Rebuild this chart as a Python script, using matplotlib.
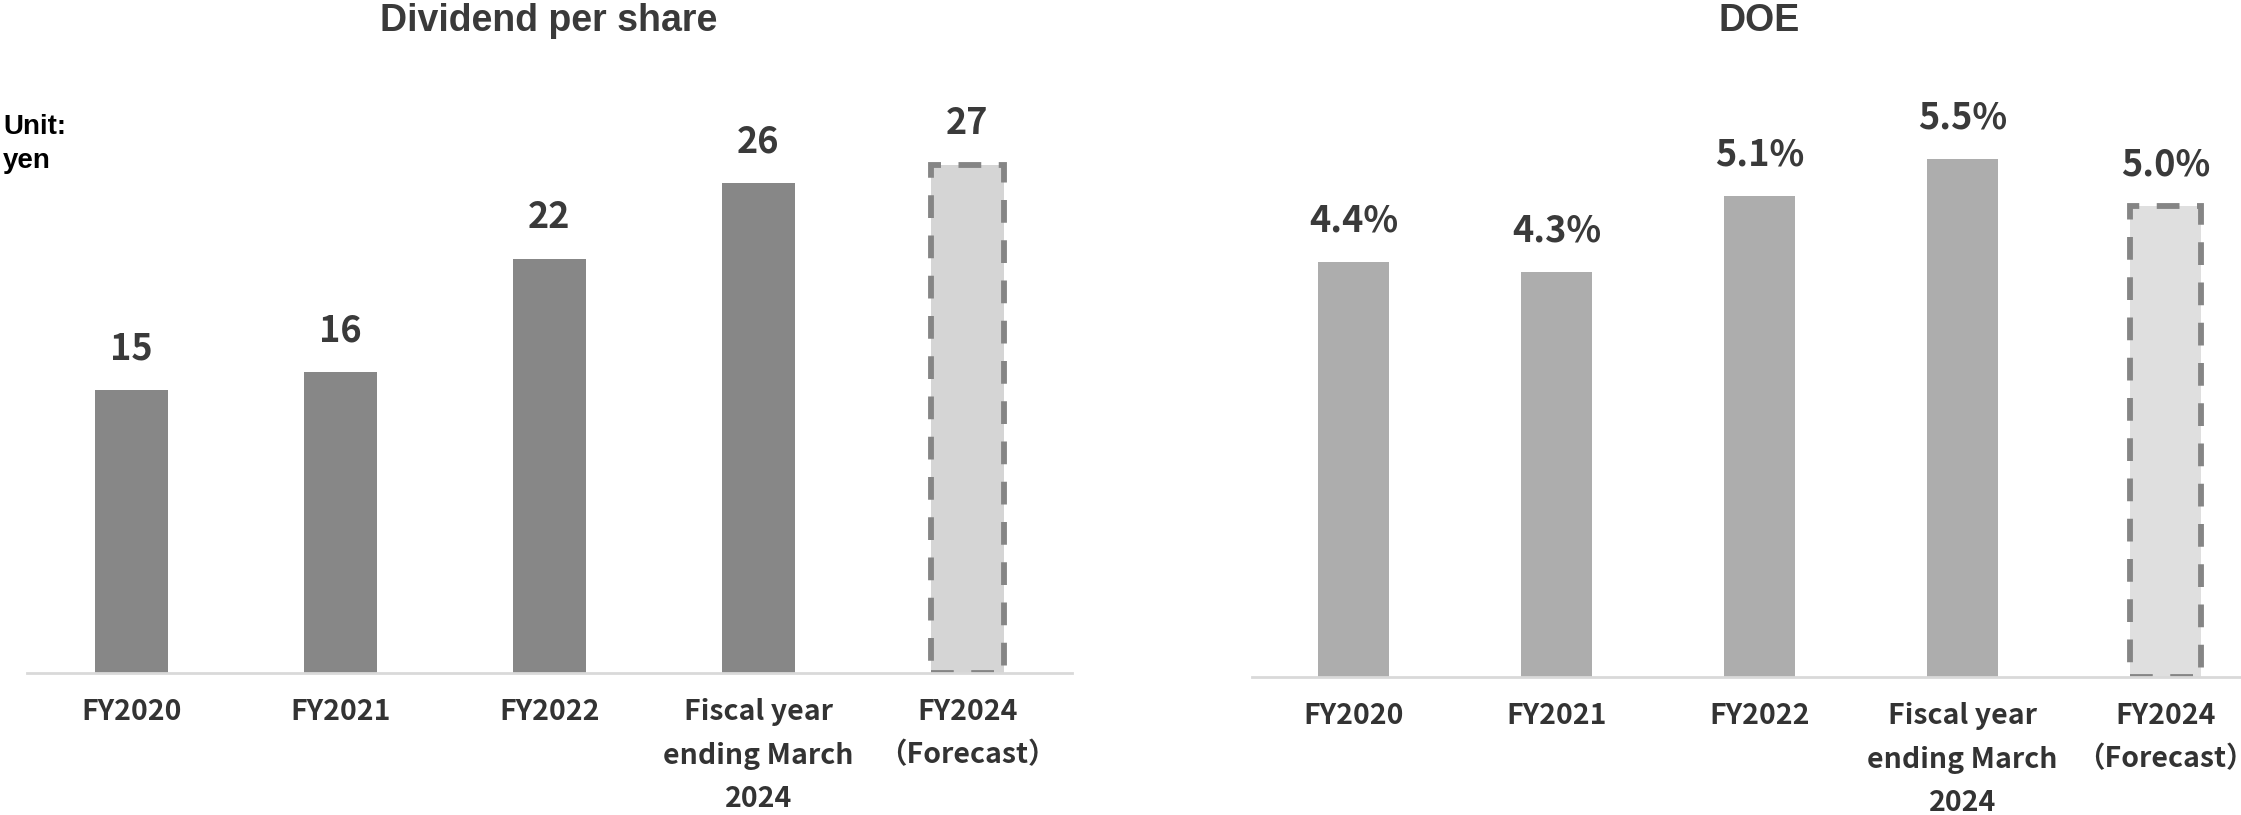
import matplotlib
matplotlib.use('Agg')
import matplotlib.pyplot as plt

plt.rcParams['font.family'] = ['Noto Sans CJK JP', 'DejaVu Sans']

# data
categories = ["FY2020", "FY2021", "FY2022",
              "Fiscal year\nending March\n2024", "FY2024\n（Forecast）"]
dividend = [15, 16, 22, 26, 27]
doe = [4.4, 4.3, 5.1, 5.5, 5.0]
is_forecast = [False, False, False, False, True]

W, H = 2241, 815
fig = plt.figure(figsize=(W / 100, H / 100), dpi=100)

ax1 = fig.add_axes([27 / W, 0.1746, 1045 / W, 0.6928])
ax2 = fig.add_axes([1252 / W, 0.1697, 1015 / W, 0.751])


def draw_panel(ax, values, ylim, bar_col, fc_col, fmt):
    x = list(range(len(values)))
    for i, v in enumerate(values):
        if is_forecast[i]:
            # forecast bar: light fill with dashed outline
            ax.bar(i, v, width=0.35, color=fc_col, edgecolor='#858585',
                   linewidth=4.2, linestyle=(0, (3.9, 3.0)), zorder=3)
        else:
            ax.bar(i, v, width=0.35, color=bar_col, zorder=2)
        ax.annotate(fmt(v), xy=(i, v), xytext=(0, 22), textcoords='offset points',
                    ha='center', va='baseline', fontsize=26, fontweight='bold',
                    color='#3a3a3a')
    ax.set_xlim(-0.5, len(values) - 0.5)
    ax.set_ylim(*ylim)
    ax.set_xticks(x, categories, fontsize=20.5, fontweight='bold', color='#333333',
                  linespacing=1.72)
    ax.tick_params(axis='x', length=0, pad=18)
    ax.set_yticks([])
    for s in ['top', 'right', 'left']:
        ax.spines[s].set_visible(False)
    ax.spines['bottom'].set_color('#d9d9d9')
    ax.spines['bottom'].set_linewidth(2)
    ax.spines['bottom'].set_zorder(4)
    ax.patch.set_alpha(0)


draw_panel(ax1, dividend, (0, 30), '#878787', '#d5d5d5', lambda v: f"{v}")
draw_panel(ax2, doe, (0, 6.5), '#adadad', '#dfdfdf', lambda v: f"{v:.1f}%")

tfont = ['Liberation Sans', 'DejaVu Sans']
fig.text((27 + 522) / W, 1 - 21 / H, "Dividend per share", ha='center', va='center',
         fontsize=27, fontweight='bold', color='#3a3a3a', family=tfont)
fig.text((1252 + 507) / W, 1 - 21 / H, "DOE", ha='center', va='center',
         fontsize=27, fontweight='bold', color='#3a3a3a', family=tfont)
fig.text(3 / W, 1 - 114 / H, "Unit:\nyen", ha='left', va='top', fontsize=20,
         fontweight='bold', color='black', family=tfont, linespacing=1.4)

fig.savefig('out.png', dpi=100)
